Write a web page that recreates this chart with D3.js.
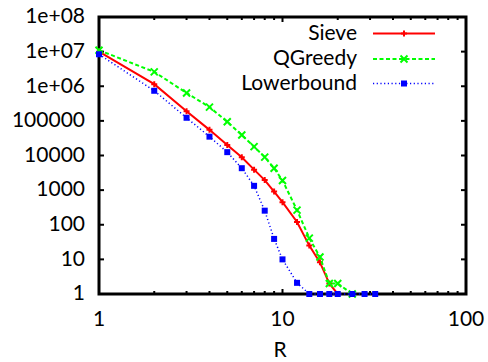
<!DOCTYPE html>
<html><head><meta charset="utf-8">
<script src="https://cdn.jsdelivr.net/npm/d3@7"></script>
<style>
html,body{margin:0;padding:0;background:#fff;}
text{font-family:Lato,"Open Sans",sans-serif;font-size:21px;fill:#000;}
</style></head>
<body><svg id="c" width="488" height="362"></svg>
<script>
const R = [1,2,3,4,5,6,7,8,9,10,12,14,16,18,20,24,28,32];
const sieve = [1e7,1.15e6,1.9e5,5.5e4,2.0e4,8.9e3,3.9e3,1.95e3,910,450,120,25,8.2,2,1];
const qgreedy = [1.1e7,2.6e6,6.4e5,2.5e5,9.4e4,3.9e4,1.8e4,9.0e3,4.3e3,1.9e3,265,41,11.7,2,2,1];
const lowerbound = [8.4e6,7.4e5,1.23e5,3.5e4,1.25e4,4.3e3,1.33e3,255,39,10,2.1,1,1,1,1,1,1,1];
const seriesNames = ["Sieve","QGreedy","Lowerbound"];
const yTicks = [1,10,100,1000,10000,100000,1e6,1e7,1e8];
const yTickLabels = ["1","10","100","1000","10000","100000","1e+06","1e+07","1e+08"];
const xTicks = [1,10,100];
const xTickLabels = ["1","10","100"];
const xLabel = "R";

const L=99,Rt=466,T=17,B=294;
const svg=d3.select("#c");
const x=d3.scaleLog().domain([1,100]).range([L,Rt]);
const y=d3.scaleLog().domain([1,1e8]).range([B,T]);

// ticks
const tk=svg.append("g").attr("stroke","#000").attr("stroke-width",2);
yTicks.forEach(v=>{
  tk.append("line").attr("x1",L).attr("x2",L+5).attr("y1",y(v)).attr("y2",y(v));
  tk.append("line").attr("x1",Rt).attr("x2",Rt-5).attr("y1",y(v)).attr("y2",y(v));
});
const xMinor=[];
[1,10].forEach(d=>{for(let k=2;k<=9;k++)xMinor.push(d*k);});
xMinor.forEach(v=>{
  tk.append("line").attr("x1",x(v)).attr("x2",x(v)).attr("y1",B).attr("y2",B-3);
  tk.append("line").attr("x1",x(v)).attr("x2",x(v)).attr("y1",T).attr("y2",T+3);
});
xTicks.forEach(v=>{
  tk.append("line").attr("x1",x(v)).attr("x2",x(v)).attr("y1",B).attr("y2",B-5);
  tk.append("line").attr("x1",x(v)).attr("x2",x(v)).attr("y1",T).attr("y2",T+5);
});
svg.append("rect").attr("x",L).attr("y",T).attr("width",Rt-L).attr("height",B-T)
  .attr("fill","none").attr("stroke","#000").attr("stroke-width",3);

// tick labels
yTicks.forEach((v,i)=>{
  svg.append("text").attr("x",85).attr("y",y(v)+1).attr("text-anchor","end")
    .attr("dominant-baseline","middle").text(yTickLabels[i]);
});
xTicks.forEach((v,i)=>{
  svg.append("text").attr("x",x(v)).attr("y",321).attr("text-anchor","middle")
    .attr("dominant-baseline","middle").text(xTickLabels[i]);
});
svg.append("text").attr("x",280).attr("y",352).attr("text-anchor","middle")
  .attr("dominant-baseline","middle").text(xLabel);

const styles=[
  {c:"#ff0000",w:2,dash:null,m:"plus"},
  {c:"#00ff00",w:2,dash:"4,2.5",m:"cross"},
  {c:"#0000ff",w:1.5,dash:"1.2,2.5",m:"square"}
];
function marker(g,cx,cy,st){
  if(st.m==="plus"){
    g.append("path").attr("d",`M${cx-3},${cy}H${cx+3}M${cx},${cy-3}V${cy+3}`)
      .attr("stroke",st.c).attr("stroke-width",2);
  }else if(st.m==="cross"){
    g.append("path").attr("d",`M${cx-3.5},${cy-3.5}L${cx+3.5},${cy+3.5}M${cx-3.5},${cy+3.5}L${cx+3.5},${cy-3.5}`)
      .attr("stroke",st.c).attr("stroke-width",2);
  }else{
    g.append("rect").attr("x",cx-3).attr("y",cy-3).attr("width",6).attr("height",6).attr("fill",st.c);
  }
}
const allData=[sieve,qgreedy,lowerbound];
const line=d3.line().x(d=>x(d[0])).y(d=>y(d[1]));
allData.forEach((vals,i)=>{
  const st=styles[i];
  const pts=vals.map((v,j)=>[R[j],v]);
  const g=svg.append("g");
  g.append("path").attr("d",line(pts)).attr("fill","none").attr("stroke",st.c)
    .attr("stroke-width",st.w).attr("stroke-dasharray",st.dash);
  pts.forEach(p=>marker(g,x(p[0]),y(p[1]),st));
});

// legend
const ly=[33.5,59,83.5];
seriesNames.forEach((n,i)=>{
  const st=styles[i];
  svg.append("text").attr("x",357).attr("y",ly[i]+1).attr("text-anchor","end")
    .attr("dominant-baseline","middle").text(n);
  const g=svg.append("g");
  g.append("line").attr("x1",373).attr("x2",435).attr("y1",ly[i]).attr("y2",ly[i])
    .attr("stroke",st.c).attr("stroke-width",st.w).attr("stroke-dasharray",st.dash);
  marker(g,404,ly[i],st);
});
</script></body></html>
